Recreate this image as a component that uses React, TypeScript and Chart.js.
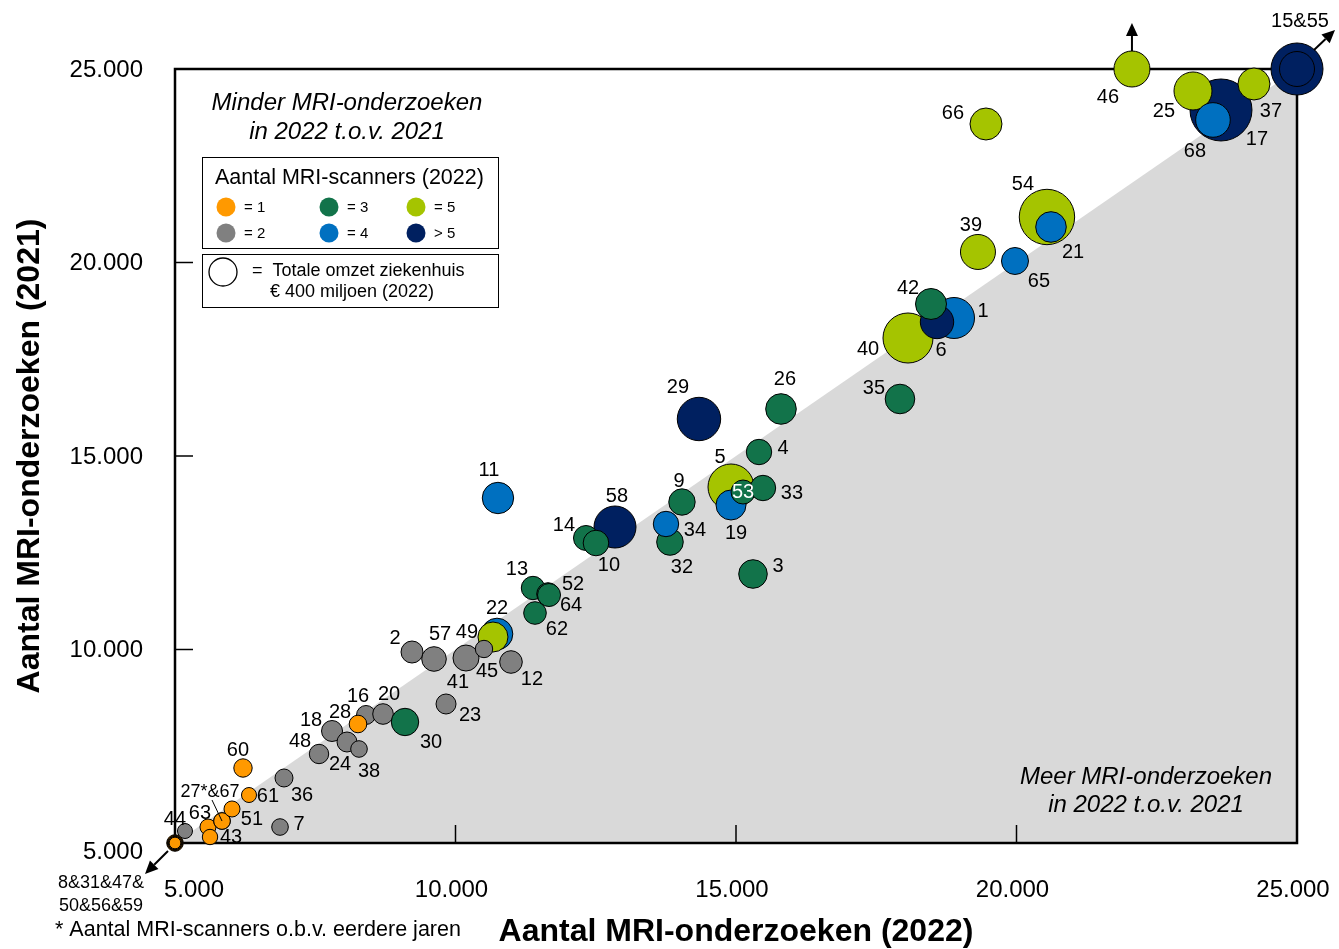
import React, { useEffect, useRef } from "react";
import { Chart, registerables } from "chart.js";

Chart.register(...registerables);

const FONT = "'Liberation Sans', Arial, Helvetica, sans-serif";

// Hospital ids, in drawing order
const hospitals = [
  "8", "31", "47", "50", "56", "59", "44", "63", "43", "27*", "67", "51", "61", "60", "7", "36", "48", "18",
  "24", "38", "16", "28", "20", "30", "23", "2", "57", "41", "22", "49", "45", "12", "13", "52", "64", "62",
  "11", "58", "14", "10", "32", "34", "9", "5", "19", "53", "33", "3", "4", "29", "26", "35", "1", "40", "6",
  "42", "39", "65", "54", "21", "66", "46", "17", "25", "68", "37", "15", "55",
];

// Aantal MRI-onderzoeken 2022 (x)
const mri2022 = [
  5000, 5000, 5000, 5000, 5000, 5000, 5178, 5588, 5624, 5838, 5838, 6016, 6319, 6212, 6872, 6943, 7567, 7799,
  8066, 8280, 8405, 8262, 8708, 9100, 9831, 9225, 9617, 10187, 10740, 10668, 10508, 10989, 11381, 11649, 11667, 11417,
  10757, 12843, 12326, 12504, 13823, 13752, 14037, 14911, 14911, 15125, 15481, 15303, 15410, 14340, 15802, 17923, 18886, 18066, 18583,
  18476, 19313, 19973, 20543, 20615, 19456, 22058, 23645, 23146, 23502, 24233, 25000, 25000,
];

// Aantal MRI-onderzoeken 2021 (y)
const mri2021 = [
  5000, 5000, 5000, 5000, 5000, 5000, 5310, 5413, 5155, 5568, 5568, 5879, 6240, 6938, 5413, 6680, 7300, 7894,
  7610, 7429, 8308, 8075, 8333, 8127, 8592, 9935, 9755, 9780, 10401, 10323, 10013, 9677, 11589, 11434, 11408, 10943,
  13915, 13165, 12881, 12752, 12778, 13243, 13811, 14199, 13734, 14070, 14173, 11951, 15103, 15956, 16215, 16473, 18566, 18049, 18463,
  18928, 20272, 20039, 21176, 20918, 23579, 25000, 23941, 24432, 23683, 24613, 25000, 25000,
];

// Totale omzet ziekenhuis 2022 (mln euro) -> bubble area
const omzet = [
  140, 120, 105, 90, 80, 70, 115, 131, 121, 141, 141, 131, 115, 173, 141, 165, 192, 225,
  204, 141, 184, 158, 217, 383, 204, 247, 309, 345, 510, 459, 154, 261, 279, 261, 270, 261,
  503, 900, 319, 334, 361, 329, 356, 1080, 459, 294, 329, 417, 329, 961, 478, 447, 858, 1276, 569,
  490, 625, 372, 1566, 478, 522, 661, 1961, 737, 611, 522, 1380, 625,
];

// Aantal MRI-scanners 2022 (6 = meer dan 5)
const scanners = [
  1, 1, 1, 1, 1, 1, 2, 1, 1, 1, 1, 1, 1, 1, 2, 2, 2, 2,
  2, 2, 2, 1, 2, 3, 2, 2, 2, 2, 4, 5, 2, 2, 3, 3, 3, 3,
  4, 6, 3, 3, 3, 4, 3, 5, 4, 3, 3, 3, 3, 6, 3, 3, 4, 5, 6,
  3, 5, 4, 5, 4, 5, 5, 6, 5, 4, 5, 6, 6,
];

// Point label texts
const labelText = [
  "", "", "", "", "", "", "44", "63", "43", "", "27*&67", "51", "61", "60", "7", "36", "48", "18",
  "24", "38", "16", "28", "20", "30", "23", "2", "57", "41", "22", "49", "45", "12", "13", "52", "64", "62",
  "11", "58", "14", "10", "32", "34", "9", "5", "19", "53", "33", "3", "4", "29", "26", "35", "1", "40", "6",
  "42", "39", "65", "54", "21", "66", "46", "17", "25", "68", "37", "15&55", "",
];

// Label offsets from their bubble (pixels)
const labelDX = [
  0, 0, 0, 0, 0, 0, -10, -8, 21, 0, -12, 20, 19, -5, 19, 18, -19, -21,
  -7, 10, -8, -18, 6, 26, 24, -17, 6, -8, 0, -26, 3, 21, -16, 25, 22, 22,
  -9, 2, -22, 13, 12, 29, -3, -11, 5, 0, 29, 25, 24, -21, 4, -26, 29, -40, 4,
  -23, -7, 24, -24, 22, -33, -24, 36, -29, -18, 17, 3, 0,
];
const labelDY = [
  0, 0, 0, 0, 0, 0, -12, -14, 0, 0, -29, 11, 1, -18, -3, 18, -13, -11,
  22, 22, -18, -12, -20, 20, 11, -14, -24, 24, -25, -5, 22, 17, -19, -10, 10, 16,
  -28, -31, -13, 22, 25, 6, -21, -30, 28, 0, 5, -8, -4, -32, -29, -11, -7, 11, 29,
  -16, -26, 20, -33, 26, -11, 28, 30, 21, 32, 28, -48, 0,
];

const scannerColors: Record<number, string> = {
  1: "#FF9900",
  2: "#808080",
  3: "#12734A",
  4: "#0070C0",
  5: "#A5C400",
  6: "#002060",
};

const legendItems = [
  { k: 1, t: "= 1" },
  { k: 2, t: "= 2" },
  { k: 3, t: "= 3" },
  { k: 4, t: "= 4" },
  { k: 5, t: "= 5" },
  { k: 6, t: "> 5" },
];

const axisTicks = [5000, 10000, 15000, 20000, 25000];
const innerTicks = [10000, 15000, 20000];
const AXIS_MIN = 5000;
const AXIS_MAX = 25000;

const fmt = (v: number) => String(v).replace(/\B(?=(\d{3})+(?!\d))/g, ".");
const radiusFor = (o: number) => 14 * Math.sqrt(o / 400);

function arrow(ctx: CanvasRenderingContext2D, x1: number, y1: number, x2: number, y2: number) {
  const ang = Math.atan2(y2 - y1, x2 - x1);
  const hl = 13;
  const hw = 6;
  const bx = x2 - hl * Math.cos(ang);
  const by = y2 - hl * Math.sin(ang);
  ctx.beginPath();
  ctx.moveTo(x1, y1);
  ctx.lineTo(bx, by);
  ctx.lineWidth = 2;
  ctx.strokeStyle = "#000";
  ctx.stroke();
  ctx.beginPath();
  ctx.moveTo(x2, y2);
  ctx.lineTo(bx + hw * Math.sin(ang), by - hw * Math.cos(ang));
  ctx.lineTo(bx - hw * Math.sin(ang), by + hw * Math.cos(ang));
  ctx.closePath();
  ctx.fillStyle = "#000";
  ctx.fill();
}

const overlayPlugin = {
  id: "overlay",
  beforeDatasetsDraw(chart: any) {
    const { ctx, chartArea: a, scales } = chart;
    const x = scales.x;
    const y = scales.y;
    ctx.save();
    ctx.fillStyle = "#D9D9D9";
    ctx.beginPath();
    ctx.moveTo(x.getPixelForValue(AXIS_MIN), y.getPixelForValue(AXIS_MIN));
    ctx.lineTo(x.getPixelForValue(AXIS_MAX), y.getPixelForValue(AXIS_MAX));
    ctx.lineTo(x.getPixelForValue(AXIS_MAX), y.getPixelForValue(AXIS_MIN));
    ctx.closePath();
    ctx.fill();

    ctx.strokeStyle = "#000";
    ctx.lineWidth = 1.5;
    for (const v of innerTicks) {
      const px = x.getPixelForValue(v);
      ctx.beginPath();
      ctx.moveTo(px, a.bottom);
      ctx.lineTo(px, a.bottom - 18);
      ctx.stroke();
      const py = y.getPixelForValue(v);
      ctx.beginPath();
      ctx.moveTo(a.left, py);
      ctx.lineTo(a.left + 18, py);
      ctx.stroke();
    }
    ctx.lineWidth = 2.5;
    ctx.strokeRect(a.left, a.top, a.right - a.left, a.bottom - a.top);

    // tick labels (the two "5.000" labels nudged away from the corner)
    ctx.fillStyle = "#000";
    ctx.font = `24px ${FONT}`;
    ctx.textBaseline = "middle";
    for (const v of axisTicks) {
      const first = v === AXIS_MIN;
      ctx.textAlign = "center";
      ctx.fillText(fmt(v), x.getPixelForValue(v) + (first ? 19 : -4), a.bottom + 47);
      ctx.textAlign = "right";
      ctx.fillText(fmt(v), a.left - 32, y.getPixelForValue(v) + (first ? 9 : 1));
    }
    ctx.restore();
  },
  afterDatasetsDraw(chart: any) {
    const { ctx, scales } = chart;
    const x = scales.x;
    const y = scales.y;
    ctx.save();
    ctx.textBaseline = "middle";
    ctx.textAlign = "center";
    hospitals.forEach((id, i) => {
      const t = labelText[i];
      if (!t) return;
      const px = x.getPixelForValue(mri2022[i]);
      const py = y.getPixelForValue(mri2021[i]);
      ctx.fillStyle = id === "53" ? "#FFFFFF" : "#000000";
      ctx.font = id === "67" ? `18px ${FONT}` : `20px ${FONT}`;
      ctx.fillText(t, px + labelDX[i], py + labelDY[i]);
      if (id === "67") {
        ctx.strokeStyle = "#000";
        ctx.lineWidth = 1;
        ctx.beginPath();
        ctx.moveTo(px - 10, py - 21);
        ctx.lineTo(px, py);
        ctx.stroke();
      }
      if (id === "46") {
        const r = radiusFor(omzet[i]);
        arrow(ctx, px, py - r, px, py - 46);
      }
      if (id === "15") {
        arrow(ctx, px + 17, py - 19, px + 38, py - 39);
      }
    });

    // corner group
    const cx = x.getPixelForValue(AXIS_MIN);
    const cy = y.getPixelForValue(AXIS_MIN);
    arrow(ctx, cx - 7, cy + 8, cx - 30, cy + 31);
    ctx.fillStyle = "#000";
    ctx.font = `18px ${FONT}`;
    ctx.textAlign = "center";
    ctx.fillText("8&31&47&", cx - 74, cy + 40);
    ctx.fillText("50&56&59", cx - 74, cy + 63);

    // footnote
    ctx.textAlign = "left";
    ctx.font = `21.5px ${FONT}`;
    ctx.fillText("* Aantal MRI-scanners o.b.v. eerdere jaren", 55, 930);

    // region texts
    ctx.textAlign = "center";
    ctx.font = `italic 24px ${FONT}`;
    ctx.fillText("Minder MRI-onderzoeken", 347, 103);
    ctx.fillText("in 2022 t.o.v. 2021", 347, 132);
    ctx.fillText("Meer MRI-onderzoeken", 1146, 777);
    ctx.fillText("in 2022 t.o.v. 2021", 1146, 805);

    // legend box 1
    ctx.fillStyle = "#FFFFFF";
    ctx.strokeStyle = "#000";
    ctx.lineWidth = 1;
    ctx.fillRect(202.5, 157.5, 296, 91);
    ctx.strokeRect(202.5, 157.5, 296, 91);
    ctx.fillStyle = "#000";
    ctx.font = `21.5px ${FONT}`;
    ctx.textAlign = "left";
    ctx.fillText("Aantal MRI-scanners (2022)", 215, 178);
    const colX = [226, 329, 416];
    const rowY = [207, 233];
    legendItems.forEach((it, j) => {
      const cxl = colX[Math.floor(j / 2)];
      const cyl = rowY[j % 2];
      ctx.beginPath();
      ctx.arc(cxl, cyl, 9.5, 0, Math.PI * 2);
      ctx.fillStyle = scannerColors[it.k];
      ctx.fill();
      ctx.fillStyle = "#000";
      ctx.font = `15px ${FONT}`;
      ctx.fillText(it.t, cxl + 18, cyl + 1);
    });

    // legend box 2
    ctx.fillStyle = "#FFFFFF";
    ctx.fillRect(202.5, 254.5, 296, 53);
    ctx.strokeRect(202.5, 254.5, 296, 53);
    ctx.beginPath();
    ctx.arc(223, 272, 14, 0, Math.PI * 2);
    ctx.lineWidth = 1.3;
    ctx.stroke();
    ctx.fillStyle = "#000";
    ctx.font = `18px ${FONT}`;
    ctx.fillText("=  Totale omzet ziekenhuis", 252, 271);
    ctx.fillText("€ 400 miljoen (2022)", 270, 292);
    ctx.restore();
  },
};

export default function App() {
  const ref = useRef<HTMLCanvasElement | null>(null);

  useEffect(() => {
    document.body.style.margin = "0";
    if (!ref.current) return;
    const data = hospitals.map((_, i) => ({ x: mri2022[i], y: mri2021[i], r: radiusFor(omzet[i]) }));
    const chart = new Chart(ref.current, {
      type: "bubble",
      data: {
        datasets: [
          {
            label: "Ziekenhuizen",
            data,
            backgroundColor: hospitals.map((_, i) => scannerColors[scanners[i]]),
            borderColor: "#000000",
            borderWidth: 1,
            clip: false as any,
          },
        ],
      },
      options: {
        animation: false,
        responsive: false,
        events: [],
        layout: { padding: { top: 69, right: 42, left: 0, bottom: 0 } },
        plugins: { legend: { display: false }, tooltip: { enabled: false } },
        scales: {
          x: {
            type: "linear",
            min: AXIS_MIN,
            max: AXIS_MAX,
            grid: { display: false, drawTicks: false },
            border: { display: false },
            ticks: { display: false },
            title: {
              display: true,
              text: "Aantal MRI-onderzoeken (2022)",
              color: "#000",
              font: { family: FONT, size: 32, weight: "bold", lineHeight: 1 },
              padding: { top: 0, bottom: 1 },
            },
            afterFit: (s: any) => {
              s.height = 106;
            },
          },
          y: {
            type: "linear",
            min: AXIS_MIN,
            max: AXIS_MAX,
            grid: { display: false, drawTicks: false },
            border: { display: false },
            ticks: { display: false },
            title: {
              display: true,
              text: "Aantal MRI-onderzoeken (2021)",
              color: "#000",
              font: { family: FONT, size: 32, weight: "bold", lineHeight: 1 },
              padding: { top: 14, bottom: 0 },
            },
            afterFit: (s: any) => {
              s.width = 175;
            },
          },
        },
      } as any,
      plugins: [overlayPlugin],
    });
    return () => chart.destroy();
  }, []);

  return (
    <div style={{ width: 1339, height: 949 }}>
      <canvas ref={ref} width={1339} height={949} style={{ display: "block", width: 1339, height: 949 }} />
    </div>
  );
}
